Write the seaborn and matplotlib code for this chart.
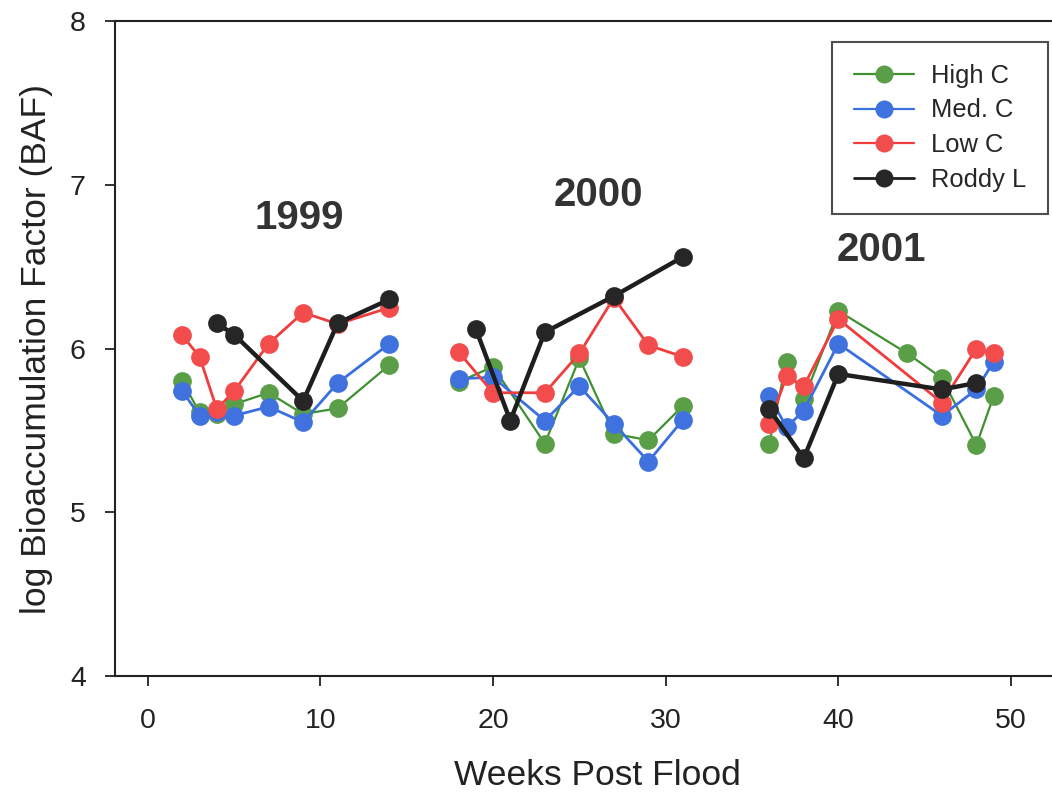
import numpy as np
import pandas as pd
import matplotlib
matplotlib.use("Agg")
import matplotlib.pyplot as plt
from matplotlib.lines import Line2D
import seaborn as sns

# Weekly log BAF measurements per site (three sampling seasons)
high_weeks = [2, 3, 4, 5, 7, 9, 11, 14, 18, 20, 23, 25, 27, 29, 31, 36, 37, 38, 40, 44, 46, 48, 49]
high_baf = [5.80, 5.61, 5.60, 5.66, 5.73, 5.60, 5.635, 5.90,
            5.795, 5.89, 5.42, 5.94, 5.48, 5.44, 5.65,
            5.42, 5.92, 5.69, 6.23, 5.97, 5.82, 5.41, 5.71]

med_weeks = [2, 3, 4, 5, 7, 9, 11, 14, 18, 20, 23, 25, 27, 29, 31, 36, 37, 38, 40, 46, 48, 49]
med_baf = [5.74, 5.59, 5.61, 5.59, 5.645, 5.55, 5.79, 6.03,
           5.815, 5.825, 5.56, 5.77, 5.54, 5.31, 5.565,
           5.71, 5.52, 5.62, 6.03, 5.59, 5.75, 5.92]

low_weeks = [2, 3, 4, 5, 7, 9, 11, 14, 18, 20, 23, 25, 27, 29, 31, 36, 37, 38, 40, 46, 48, 49]
low_baf = [6.08, 5.95, 5.63, 5.74, 6.03, 6.22, 6.15, 6.25,
           5.98, 5.73, 5.73, 5.97, 6.31, 6.02, 5.95,
           5.54, 5.83, 5.77, 6.18, 5.67, 6.00, 5.97]

roddy_weeks = [4, 5, 9, 11, 14, 19, 21, 23, 27, 31, 36, 38, 40, 46, 48]
roddy_baf = [6.155, 6.085, 5.68, 6.155, 6.30,
             6.12, 5.56, 6.10, 6.32, 6.56,
             5.63, 5.33, 5.845, 5.75, 5.79]

sites = ["High C", "Med. C", "Low C", "Roddy L"]
year_labels = ["1999", "2000", "2001"]
year_label_pos = [(8.8, 6.80), (26.1, 6.94), (42.5, 6.60)]

series = {
    "High C": (high_weeks, high_baf),
    "Med. C": (med_weeks, med_baf),
    "Low C": (low_weeks, low_baf),
    "Roddy L": (roddy_weeks, roddy_baf),
}

line_colors = {"High C": "#3f9130", "Med. C": "#3a6fe0", "Low C": "#f03c3c", "Roddy L": "#1e1e1e"}
marker_colors = {"High C": "#5a9e48", "Med. C": "#3f72de", "Low C": "#f24c4c", "Roddy L": "#262626"}
line_widths = {"High C": 1.6, "Med. C": 2.0, "Low C": 2.0, "Roddy L": 3.2}


def season(week):
    if week < 16:
        return "1999"
    if week < 34:
        return "2000"
    return "2001"


rows = []
for site in sites:
    weeks, vals = series[site]
    for w, v in zip(weeks, vals):
        rows.append({"site": site, "week": w, "baf": v, "year": season(w)})
df = pd.DataFrame(rows)

sns.set_theme(style="ticks")
plt.rcParams["font.family"] = ["Liberation Sans", "DejaVu Sans"]

fig = plt.figure(figsize=(10.52, 8.01), dpi=100)
ax = fig.add_axes([0.1093, 0.156, 0.9173, 0.8177])

for site in sites:
    sub = df[df["site"] == site]
    sns.lineplot(data=sub, x="week", y="baf", units="year", estimator=None,
                 color=line_colors[site], linewidth=line_widths[site],
                 marker="o", markersize=13.5, markeredgewidth=0,
                 markerfacecolor=marker_colors[site], sort=True, ax=ax)

for label, (xp, yp) in zip(year_labels, year_label_pos):
    ax.text(xp, yp, label, fontsize=29, fontweight="bold", color="#333333",
            ha="center", va="center")

ax.set_xlim(-1.9, 54)
ax.set_ylim(4, 8)
ax.set_xticks([0, 10, 20, 30, 40, 50])
ax.set_yticks([4, 5, 6, 7, 8])
ax.tick_params(axis="both", direction="out", length=7, width=1.3,
               labelsize=20.5, colors="#222222")
ax.tick_params(axis="x", pad=16)
ax.tick_params(axis="y", pad=14)
for side in ["left", "bottom", "top"]:
    ax.spines[side].set_linewidth(1.5)
    ax.spines[side].set_color("#222222")
ax.spines["right"].set_visible(False)

ax.set_xlabel("Weeks Post Flood", fontsize=25.5, color="#222222", labelpad=18)
ax.set_ylabel("log Bioaccumulation Factor (BAF)", fontsize=25.5, color="#222222", labelpad=12)

handles = [Line2D([0], [0], color=line_colors[s], linewidth=1.6 if s != "Roddy L" else 2.0,
                  marker="o", markersize=13, markeredgewidth=0,
                  markerfacecolor=marker_colors[s]) for s in sites]
leg = fig.legend(handles, sites, loc="upper right", bbox_to_anchor=(1048 / 1052, 1 - 42 / 801),
                 bbox_transform=fig.transFigure,
                 fontsize=18.4, frameon=True, fancybox=False, edgecolor="#222222",
                 handlelength=2.35, handletextpad=0.67, labelspacing=0.42,
                 borderpad=0.85, borderaxespad=0)
leg.get_frame().set_linewidth(1.5)

fig.savefig("out.png", dpi=100)
